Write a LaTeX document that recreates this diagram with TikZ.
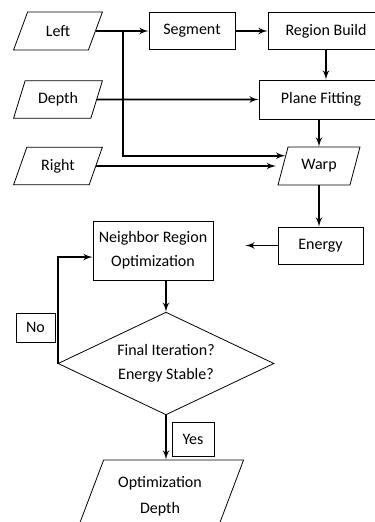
\documentclass[tikz,border=0pt]{standalone}
\usepackage{fontspec}
\setmainfont{Carlito}
\usepackage{tikz}
\usetikzlibrary{shapes.geometric, arrows}

\begin{document}
\begin{tikzpicture}[x=0.75pt,y=-0.75pt,
	every node/.style={font=\fontsize{12}{18}\selectfont,align=center,inner sep=0pt},
	proc/.style={rectangle,draw,line width=0.6pt},
	data/.style={trapezium,trapezium left angle=63,trapezium right angle=117,trapezium stretches=true,draw,line width=0.6pt},
	decide/.style={diamond,draw,line width=0.6pt,aspect=2.1},
	flow/.style={->,>=latex',line width=1.4pt},
	tag/.style={rectangle,draw,line width=0.6pt}]
	\useasboundingbox (0,0) rectangle (375,522);
	\clip (0,0) rectangle (375,522);
	% inputs
	\node[data,minimum width=66.75pt,minimum height=28.5pt] (left) at (58,31) {Left};
	\node[data,minimum width=66.75pt,minimum height=28pt] (depth) at (58,99.5) {Depth};
	\node[data,minimum width=66.75pt,minimum height=28pt] (right) at (58,166) {Right};
	% top row
	\node[proc,minimum width=64.5pt,minimum height=27.75pt] (segment) at (192,31) {Segment};
	\node[proc,minimum width=87pt,minimum height=27.75pt] (region) at (326,31) {Region Build};
	\node[proc,minimum width=93pt,minimum height=29.25pt] (plane) at (321,99.5) {Plane Fitting};
	\node[data,minimum width=61.5pt,minimum height=28.5pt,trapezium left angle=66,trapezium right angle=114] (warp) at (319,166) {Warp};
	\node[proc,minimum width=63.75pt,minimum height=27.75pt] (energy) at (320.5,245.5) {Energy};
	% optimisation loop
	\node[proc,minimum width=90pt,minimum height=44.25pt] (neighbor) at (153,250.5) {Neighbor Region\\Optimization};
	\node[decide,minimum width=162pt,minimum height=77pt] (check) at (166,363.5) {Final Iteration?\\Energy Stable?};
	\node[tag,minimum width=29.25pt,minimum height=21.75pt] (no) at (35.5,327.5) {No};
	\node[tag,minimum width=31.5pt,minimum height=25.5pt] (yes) at (193,439) {Yes};
	\node[data,minimum width=126pt,minimum height=54pt,font=\fontsize{12}{19.5}\selectfont] (odepth) at (160,496) {Optimization\\Depth};

	\coordinate (split) at (123,31);
	\draw[flow] (left.east) -- (segment.west);
	\draw[flow] (segment.east) -- (region.west);
	\draw[flow] (split) |- (warp.163);
	\draw[flow,shorten >=5pt] (right.east) -- (warp.west);
	\draw[flow] (depth.east) -- (plane.west);
	\draw[flow] (region.south) -- (region.south |- plane.north);
	\draw[flow] (warp.north |- plane.south) -- (warp.north);
	\draw[flow] (warp.south) -- (warp.south |- energy.north);
	\draw[flow,shorten >=24pt] (energy.west) -- (energy.west -| neighbor.east);
	\draw[flow] (check.north |- neighbor.south) -- (check.north);
	\draw[flow] (check.west) |- ([yshift=-4.9pt]neighbor.west);
	\draw[flow] (check.south) -- (check.south |- odepth.north);
\end{tikzpicture}
\end{document}
